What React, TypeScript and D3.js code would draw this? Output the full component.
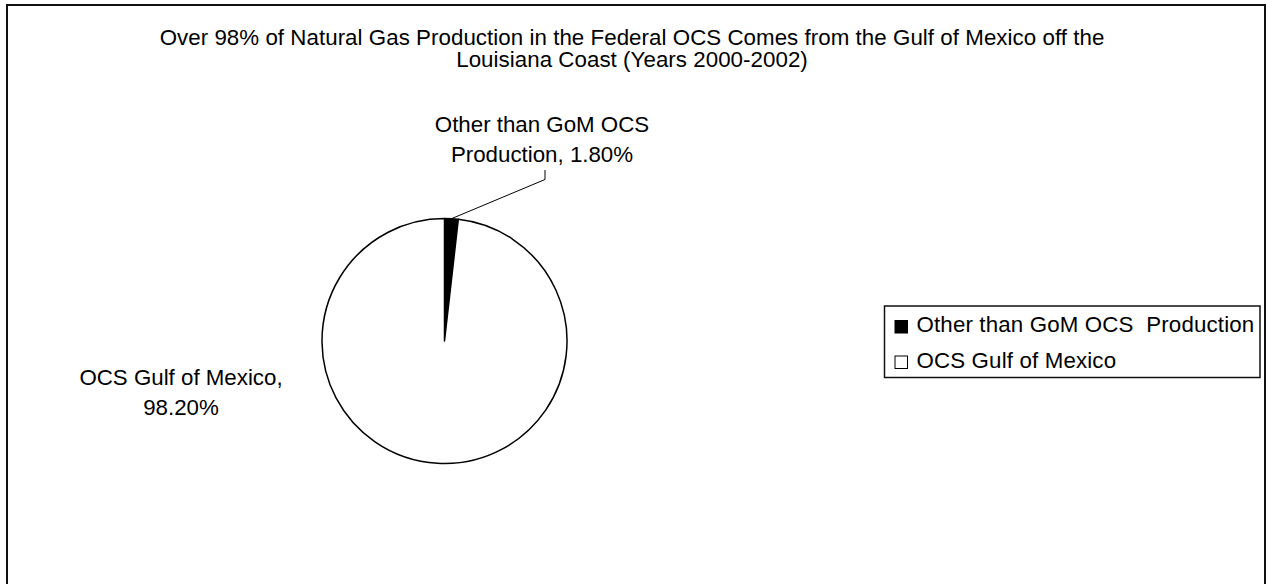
import React from "react";
import * as d3 from "d3";

const categories = ["Other than GoM OCS  Production", "OCS Gulf of Mexico"];
const values = [1.8, 98.2];
const fills = ["#000000", "#ffffff"];
const titleLines = [
  "Over 98% of Natural Gas Production in the Federal OCS Comes from the Gulf of Mexico off the",
  "Louisiana Coast (Years 2000-2002)",
];
const labelLines = [
  ["Other than GoM OCS", "Production, "],
  ["OCS Gulf of Mexico,", ""],
];

const W = 1272;
const H = 584;
const FONT = "'Liberation Sans', Arial, sans-serif";
const FS = 22.3;

export default function App() {
  const cx = 444.5;
  const cy = 341;
  const r = 122.5;
  const total = d3.sum(values);
  const fmt = d3.format(".2%");
  const pie = d3
    .pie<number>()
    .sort(null)
    .startAngle(0)
    .endAngle(2 * Math.PI)(values);
  const arc = d3.arc<d3.PieArcDatum<number>>().innerRadius(0).outerRadius(r);

  const other = pie[0];
  const mid = (other.startAngle + other.endAngle) / 2;
  const p0: [number, number] = [cx + r * Math.sin(mid), cy - r * Math.cos(mid)];
  const leader = d3.line()([p0, [545, 179.5], [545, 170]]);

  return (
    <div style={{ position: "absolute", left: 0, top: 0 }}>
      <svg width={W} height={H} style={{ display: "block", fontFamily: FONT }}>
        <rect x={0} y={0} width={W} height={H} fill="#fff" />
        <rect x={7} y={5} width={1258} height={620} fill="#fff" stroke="#111" strokeWidth={2} />
        {titleLines.map((t, i) => (
          <text key={i} x={632} y={44.5 + i * 22.5} textAnchor="middle" fontSize={FS} fill="#000" letterSpacing={0.05}>
            {t}
          </text>
        ))}
        <g transform={`translate(${cx},${cy})`}>
          {pie.map((d, i) => (
            <path key={i} d={arc(d) || ""} fill={fills[i]} stroke="#000" strokeWidth={1.5} strokeLinejoin="round" />
          ))}
        </g>
        <path d={leader || ""} fill="none" stroke="#000" strokeWidth={1} />
        <text x={542} textAnchor="middle" fontSize={FS} fill="#000">
          <tspan x={542} y={132.3}>{labelLines[0][0]}</tspan>
          <tspan x={542} y={161.7}>{labelLines[0][1] + fmt(values[0] / total)}</tspan>
        </text>
        <text x={181} textAnchor="middle" fontSize={FS} fill="#000">
          <tspan x={181} y={385}>{labelLines[1][0]}</tspan>
          <tspan x={181} y={415}>{fmt(values[1] / total)}</tspan>
        </text>
        <rect x={884.5} y={306} width={375.5} height={71.5} fill="#fff" stroke="#111" strokeWidth={1.5} />
        {categories.map((c, i) => {
          const by = 332 + i * 35.5;
          return (
            <g key={i}>
              <rect x={895} y={by - 11.5} width={12.5} height={12.5} fill={fills[i]} stroke="#000" strokeWidth={1} />
              <text x={916.5} y={by} fontSize={FS} fill="#000" letterSpacing={0.15} style={{ whiteSpace: "pre" }}>
                {c}
              </text>
            </g>
          );
        })}
      </svg>
    </div>
  );
}
